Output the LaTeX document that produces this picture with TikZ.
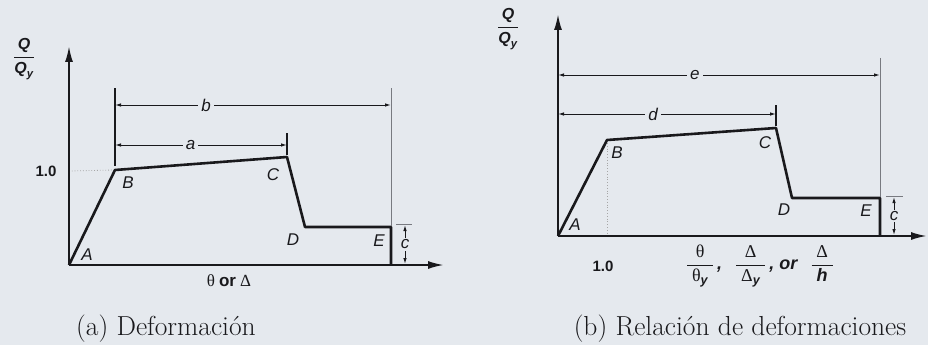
\documentclass[tikz,border=0pt]{standalone}
\usepackage{amsmath}
\usepackage{fontspec}
\newfontfamily\hv{Liberation Sans}
\newfontfamily\gr{Liberation Serif}
\usetikzlibrary{arrows.meta}
\definecolor{bg}{RGB}{229,233,238}
\definecolor{ink}{RGB}{25,25,28}
\definecolor{ext}{RGB}{120,122,128}
\newcommand{\myth}{\text{\gr\upshape\mdseries θ}}
\newcommand{\myDe}{\text{\gr\upshape\mdseries Δ}}
\tikzset{
  axis/.style={draw=ink,line width=2pt,-{Latex[length=16pt,width=8pt]}},
  curve/.style={draw=ink,line width=2.6pt,line join=round},
  dim/.style={draw=ink,line width=1pt,{Latex[length=6pt,width=3.5pt]}-{Latex[length=6pt,width=3.5pt]}},
  extline/.style={draw=ext,line width=1pt},
  dimlbl/.style={fill=bg,inner sep=3pt,font=\hv\itshape\fontsize{17}{17}\selectfont,text=ink},
  ptlbl/.style={font=\hv\itshape\fontsize{17}{17}\selectfont,text=ink,inner sep=0pt},
  numlbl/.style={font=\hv\bfseries\fontsize{15}{15}\selectfont,text=ink,inner sep=0pt},
  caption/.style={text=ink,inner sep=0pt,font=\fontsize{27.5}{32}\selectfont},
}
\begin{document}
\begin{tikzpicture}[x=1pt,y=-1pt]
\fill[bg] (0,0) rectangle (928,345);
\useasboundingbox (0,0) rectangle (928,345);

% ---------- left panel ----------
\coordinate (A1) at (69,265);
\coordinate (B1) at (115,170);
\coordinate (C1) at (287,157);
\coordinate (D1) at (305,227);
\coordinate (E1) at (391,227);
\coordinate (F1) at (391,265);
\coordinate (Y1) at (69,46);
\coordinate (X1) at (444,265);

\draw[gray!70,line width=0.8pt,dotted] (69,171) -- (B1);
\draw[axis] (A1) -- (Y1);
\draw[axis] (A1) -- (X1);
\draw[curve] (A1) -- (B1) -- (C1) -- (D1) -- (E1) -- (F1);

\draw[draw=ink,line width=1.2pt] (115,88) -- (115,166);
\draw[draw=ink,line width=1.2pt] (287,133) -- (287,155);
\draw[extline] (391,88) -- (391,226);
\draw[extline] (396,224) -- (412,224);

\draw[dim] (115,105) -- node[dimlbl,pos=0.33] (lb) {b} (391,105);
\draw[dim] (115,145) -- node[dimlbl,pos=0.44] (la) {a} (287,145);
\draw[dim] (405,225) -- node[dimlbl,inner sep=1.5pt] (lc1) {c} (405,264);

\node[numlbl] (one1) at (46,171) {1.0};
\node[ptlbl] (lA1) at (87,255) {A};
\node[ptlbl] (lB1) at (128,183) {B};
\node[ptlbl] (lC1) at (273,175) {C};
\node[ptlbl] (lD1) at (293,240) {D};
\node[ptlbl] (lE1) at (379,241) {E};
\node[inner sep=0pt,text=ink] (xl1) at (229,281) {\fontsize{17}{17}\selectfont\gr θ\kern4pt\hv\bfseries or\kern4pt\mdseries\gr Δ};
\node[inner sep=0pt,text=ink] (ql1) at (24,59) {\fontsize{16}{16}\selectfont\hv\bfseries\itshape
  $\displaystyle\frac{\text{Q}}{\text{Q}_{\text{y}}}$};

% ---------- right panel ----------
\coordinate (A2) at (558,236);
\coordinate (B2) at (607,140);
\coordinate (C2) at (776,128);
\coordinate (D2) at (792,198);
\coordinate (E2) at (880,198);
\coordinate (F2) at (880,236);
\coordinate (Y2) at (558,14);
\coordinate (X2) at (927,236);

\draw[gray!70,line width=0.8pt,dotted] (607,143) -- (607,236);
\draw[axis] (A2) -- (Y2);
\draw[axis] (A2) -- (X2);
\draw[curve] (A2) -- (B2) -- (C2) -- (D2) -- (E2) -- (F2);

\draw[draw=ink,line width=1.2pt] (776,105) -- (776,126);
\draw[extline] (880,58) -- (880,197);
\draw[extline] (886,196) -- (903,196);

\draw[dim] (558,75) -- node[dimlbl,pos=0.425] (le) {e} (880,75);
\draw[dim] (558,114) -- node[dimlbl,pos=0.436] (ld) {d} (776,114);
\draw[dim] (894,197) -- node[dimlbl,inner sep=1.5pt] (lc2) {c} (894,235);

\node[numlbl] (one2) at (603,266) {1.0};
\node[ptlbl] (lA2) at (575,225) {A};
\node[ptlbl] (lB2) at (617,153) {B};
\node[ptlbl] (lC2) at (765,143) {C};
\node[ptlbl] (lD2) at (784,210) {D};
\node[ptlbl] (lE2) at (866,211) {E};
\node[inner sep=0pt,text=ink] (xl2) at (760,266) {\fontsize{18}{18}\selectfont\hv\bfseries\itshape
  $\displaystyle\frac{\;\myth\;}{\;\myth_{\text{y}}\;}\text{\,,\ \ \,}\frac{\;\myDe\;}{\;\myDe_{\text{y}}\;}\text{\,, or\ \ \,}\frac{\;\myDe\;}{\;\text{h}\;}$};
\node[inner sep=0pt,text=ink] (ql2) at (508,29) {\fontsize{16}{16}\selectfont\hv\bfseries\itshape
  $\displaystyle\frac{\text{Q}}{\text{Q}_{\text{y}}}$};

% ---------- captions ----------
\node[caption] (capa) at (166,329) {(a) Deformación};
\node[caption] (capb) at (740,329) {(b) Relación de deformaciones};
\end{tikzpicture}
\end{document}
